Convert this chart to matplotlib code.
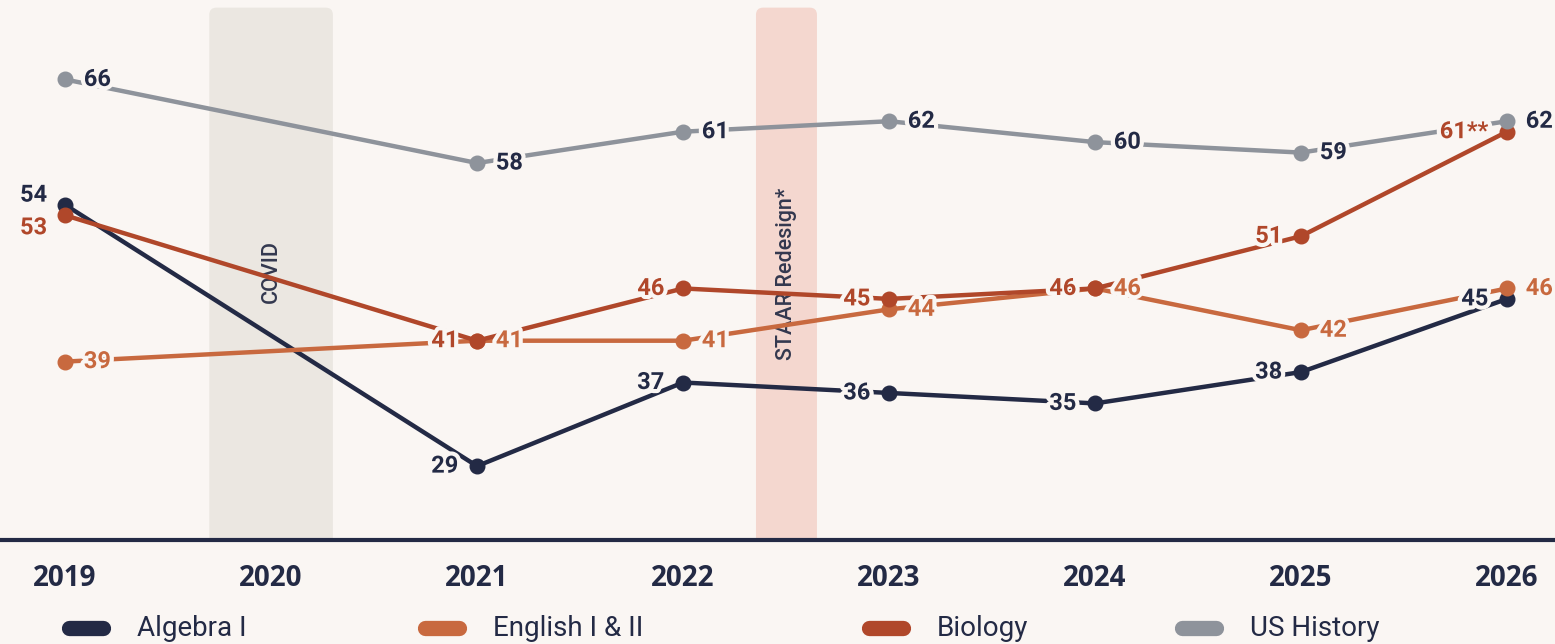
import matplotlib
matplotlib.use("Agg")
import matplotlib.pyplot as plt
import matplotlib.patheffects as pe
from matplotlib.patches import FancyBboxPatch
from matplotlib.lines import Line2D

years = [2019, 2020, 2021, 2022, 2023, 2024, 2025, 2026]
subjects = ["Algebra I", "English I & II", "Biology", "US History"]

# no test in 2020, so each series skips that year
test_years = [2019, 2021, 2022, 2023, 2024, 2025, 2026]
algebra = [54, 29, 37, 36, 35, 38, 45]
english = [39, 41, 41, 44, 46, 42, 46]
biology = [53, 41, 46, 45, 46, 51, 61]
history = [66, 58, 61, 62, 60, 59, 62]

biology_labels = ["53", "41", "46", "45", "46", "51", "61**"]

BG = "#faf6f3"
NAVY = "#232a45"
ORANGE = "#c8693f"
RUST = "#b0472a"
GREY = "#8e939b"

fig = plt.figure(figsize=(15.55, 6.44), dpi=100, facecolor=BG)
ax = fig.add_axes([0, 104 / 644, 1, 540 / 644])
ax.set_facecolor(BG)
ax.set_xlim(2018.684, 2026.233)
ax.set_ylim(21.93, 73.6)

# shaded periods
px_aspect = (1 / 10.45) / (1 / 206)
for x0, x1, col, txt, ty in [(2019.70, 2020.30, "#ebe7e1", "COVID", 47.6),
                             (2022.354, 2022.65, "#f4d7cf", "STAAR Redesign*", 47.4)]:
    band = FancyBboxPatch((x0, 18), x1 - x0, 72.87 - 18,
                          boxstyle="round,pad=0,rounding_size=0.035",
                          mutation_aspect=px_aspect, fc=col, ec="none", zorder=0)
    ax.add_patch(band)
    ax.text((x0 + x1) / 2, ty, txt, rotation=90, ha="center", va="center",
            fontsize=15.5, color="#33384f", family="Roboto", fontweight="medium",
            zorder=1)

series = [
    (algebra, NAVY, NAVY, [str(v) for v in algebra]),
    (english, ORANGE, ORANGE, [str(v) for v in english]),
    (biology, RUST, RUST, biology_labels),
    (history, GREY, NAVY, [str(v) for v in history]),
]
for i, (vals, col, tcol, labs) in enumerate(series):
    ax.plot(test_years, vals, color=col, lw=3.2, marker="o", ms=10.5,
            solid_capstyle="round", zorder=3 + i)

# where each value label sits relative to its marker (dx, dy in points)
R = (13.5, 0)
L = (-13.5, 0)
offsets = [
    [(-13, 7), L, L, L, L, L, L],
    [R, R, R, R, R, R, R],
    [(-13, -9), L, L, L, L, L, L],
    [R, R, R, R, R, R, R],
]
halo = [pe.withStroke(linewidth=6, foreground=BG)]
for (vals, col, tcol, labs), offs in zip(series, offsets):
    for x, v, lab, (dx, dy) in zip(test_years, vals, labs, offs):
        ax.annotate(lab, (x, v), xytext=(dx, dy), textcoords="offset points",
                    ha="left" if dx > 0 else "right", va="center",
                    fontsize=17, fontweight="bold", color=tcol,
                    family="Roboto", path_effects=halo, zorder=10)

for s in ["top", "left", "right"]:
    ax.spines[s].set_visible(False)
ax.spines["bottom"].set_color(NAVY)
ax.spines["bottom"].set_linewidth(3)
ax.spines["bottom"].set_zorder(12)
ax.set_yticks([])
ax.set_xticks(years)
ax.set_xticklabels([str(y) for y in years], fontsize=20, fontweight="bold",
                   color=NAVY, family="Open Sans")
ax.tick_params(axis="x", length=0, pad=17)

# legend drawn by hand along the bottom edge
leg_x = [62, 418, 862, 1175]
for name, col, x in zip(subjects, [NAVY, ORANGE, RUST, GREY], leg_x):
    fig.add_artist(Line2D([(x + 7) / 1555, (x + 41) / 1555], [16 / 644, 16 / 644],
                          color=col, lw=11, solid_capstyle="round"))
    fig.text((x + 75) / 1555, 16 / 644, name, ha="left", va="center",
             fontsize=20, color=NAVY, family="Roboto")

fig.savefig("out.png", dpi=100, facecolor=BG)
